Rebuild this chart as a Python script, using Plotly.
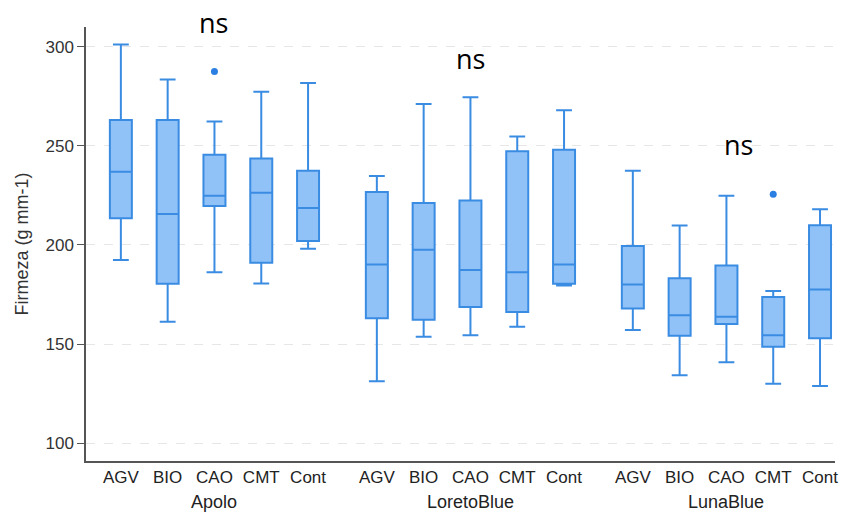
import plotly.graph_objects as go

# Firmness (g mm-1) summary statistics per cultivar and treatment
cultivars = ["Apolo", "LoretoBlue", "LunaBlue"]
treatments = ["AGV", "BIO", "CAO", "CMT", "Cont"]

lower_whisker = [
    [192.4, 161.3, 186.2, 180.6, 198.1],
    [131.3, 153.7, 154.4, 158.7, 179.6],
    [157.1, 134.3, 140.8, 130.0, 128.9],
]
q1 = [
    [213.5, 180.5, 219.7, 191.1, 202.0],
    [163.0, 162.3, 168.7, 166.2, 180.5],
    [168.0, 154.2, 160.1, 148.6, 153.0],
]
median = [
    [236.9, 215.7, 224.9, 226.3, 218.7],
    [190.1, 197.6, 187.4, 186.2, 190.1],
    [180.1, 164.5, 163.8, 154.4, 177.6],
]
q3 = [
    [263.1, 263.1, 245.5, 243.6, 237.5],
    [226.8, 221.2, 222.4, 247.3, 248.0],
    [199.5, 183.2, 189.6, 173.7, 209.9],
]
upper_whisker = [
    [301.2, 283.5, 262.3, 277.3, 281.7],
    [234.8, 271.1, 274.6, 254.7, 268.0],
    [237.4, 209.8, 224.9, 176.8, 218.0],
]
# (cultivar index, treatment index, value)
outliers = [(0, 2, 287.5), (2, 3, 225.6)]
# significance label per cultivar
sig_labels = ["ns", "ns", "ns"]

GROUP_STEP = 5.47  # distance between first boxes of consecutive cultivars


def pos(g, i):
    return g * GROUP_STEP + i


xs, lf, b1, md, b3, uf, tick_text = [], [], [], [], [], [], []
for g in range(len(cultivars)):
    for i, t in enumerate(treatments):
        xs.append(pos(g, i))
        lf.append(lower_whisker[g][i])
        b1.append(q1[g][i])
        md.append(median[g][i])
        b3.append(q3[g][i])
        uf.append(upper_whisker[g][i])
        tick_text.append(t)

line_col = "#3a8ce2"
fill_col = "#90c2f8"

fig = go.Figure()
fig.add_trace(go.Box(
    x=xs, q1=b1, median=md, q3=b3, lowerfence=lf, upperfence=uf,
    width=0.47, whiskerwidth=0.72,
    line=dict(color=line_col, width=2),
    fillcolor=fill_col,
    boxpoints=False,
    hoverinfo="skip",
    showlegend=False,
))
fig.add_trace(go.Scatter(
    x=[pos(g, i) for g, i, _ in outliers],
    y=[v for _, _, v in outliers],
    mode="markers",
    marker=dict(color="#2b7fe3", size=7),
    showlegend=False,
    hoverinfo="skip",
    cliponaxis=False,
))

# placement of the significance labels (x offset from the middle box, paper y)
sig_dx = [-0.01, 0.01, 0.25]
sig_py = [1.0104, 0.9274, 0.729]

annotations = []
for g, name in enumerate(cultivars):
    annotations.append(dict(
        x=pos(g, 2), y=-0.066, xref="x", yref="paper", yanchor="top",
        text=name, showarrow=False,
        font=dict(family="Liberation Sans, Arial", size=18, color="#222222"),
    ))
    annotations.append(dict(
        x=pos(g, 2) + sig_dx[g], y=sig_py[g], xref="x", yref="paper",
        text=sig_labels[g], showarrow=False, yanchor="middle",
        font=dict(family="Open Sans, Lato", size=27, color="#000000"),
    ))

fig.update_layout(
    width=845, height=515,
    margin=dict(l=86, r=7, t=27, b=54),
    plot_bgcolor="white", paper_bgcolor="white",
    font=dict(family="Liberation Sans, Arial", color="#333333"),
    annotations=annotations,
    xaxis=dict(
        range=[-0.745, 15.26],
        tickvals=xs, ticktext=tick_text,
        tickfont=dict(size=17, color="#222222"),
        showgrid=False, zeroline=False,
        showline=True, linecolor="#555555", linewidth=1.5,
        ticks="", ticklen=0,
    ),
    yaxis=dict(
        range=[91, 310],
        tickvals=[100, 150, 200, 250, 300],
        tickfont=dict(size=17, color="#333333"),
        showgrid=True, gridcolor="#e6e6e6", griddash="dash", gridwidth=1,
        zeroline=False,
        showline=True, linecolor="#555555", linewidth=1.5,
        ticks="outside", ticklen=7, tickcolor="#555555",
        title=dict(text="Firmeza (g mm-1)", font=dict(size=18, color="#333333"), standoff=12),
    ),
)

fig.write_html("out.html")
